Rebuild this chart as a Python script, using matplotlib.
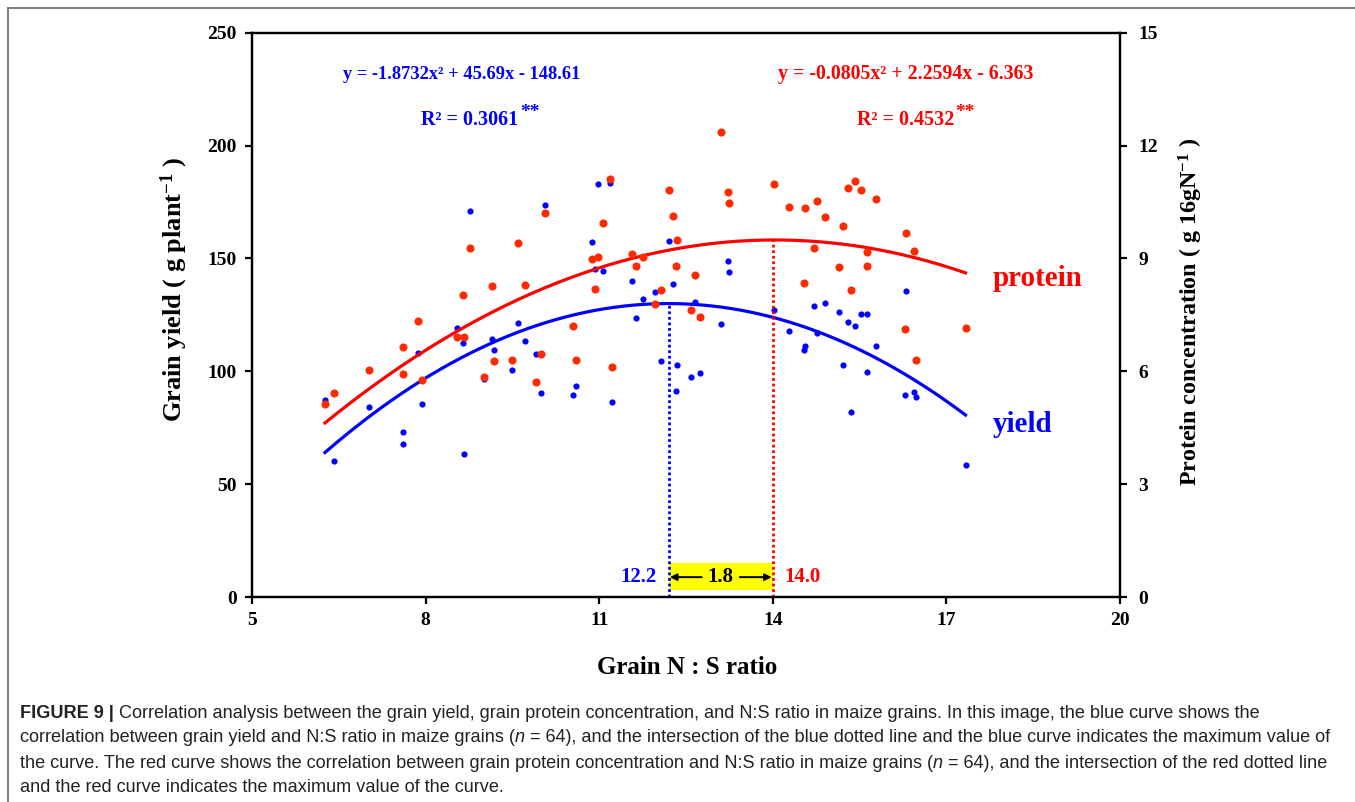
import numpy as np
import matplotlib
matplotlib.use("Agg")
import matplotlib.pyplot as plt
from matplotlib.lines import Line2D
from matplotlib.patches import Rectangle

plt.rcParams['font.family'] = ['Liberation Serif', 'DejaVu Serif']
plt.rcParams['font.weight'] = 'bold'
plt.rcParams['axes.labelweight'] = 'bold'
plt.rcParams['mathtext.fontset'] = 'custom'
plt.rcParams['mathtext.rm'] = 'Liberation Serif:bold'
plt.rcParams['mathtext.bf'] = 'Liberation Serif:bold'
plt.rcParams['mathtext.default'] = 'rm'

# grain N:S ratio of each sample (shared by both series)
ns_ratio = [6.26, 6.42, 7.02, 7.61, 7.61, 7.86, 7.94, 8.54, 8.65, 8.67,
            8.76, 9.01, 9.15, 9.19, 9.49, 9.59, 9.71, 9.91, 9.99, 10.06,
            10.55, 10.60, 10.87, 10.92, 10.98, 11.07, 11.19, 11.22, 11.56, 11.64,
            11.76, 11.96, 12.06, 12.20, 12.27, 12.33, 12.34, 12.58, 12.66, 12.74,
            13.10, 13.23, 13.25, 14.02, 14.28, 14.54, 14.56, 14.71, 14.76, 14.91,
            15.14, 15.21, 15.30, 15.35, 15.42, 15.52, 15.62, 15.62, 15.79, 16.28,
            16.30, 16.44, 16.48, 17.33]

# grain yield, g per plant
grain_yield = [87.5, 60.3, 84.2, 73.3, 67.7, 108.3, 85.7, 119.3, 112.7, 63.4,
               170.8, 96.8, 114.2, 109.3, 100.7, 121.4, 113.3, 107.8, 90.4, 173.6,
               89.7, 93.4, 157.4, 145.1, 182.9, 144.4, 183.2, 86.4, 139.8, 123.5,
               131.9, 135.1, 104.4, 157.8, 138.6, 91.3, 102.7, 97.3, 130.7, 99.4,
               120.9, 149.0, 143.8, 127.1, 118.0, 109.3, 111.1, 128.9, 116.8, 130.2,
               126.1, 102.7, 121.7, 82.0, 120.2, 125.4, 125.4, 99.7, 111.4, 89.7,
               135.5, 90.8, 88.4, 58.3]

# protein concentration, g per 16 g N
protein = [5.13, 5.41, 6.04, 6.64, 5.93, 7.34, 5.78, 6.90, 8.02, 6.90,
           9.28, 5.86, 8.26, 6.28, 6.31, 9.42, 8.29, 5.71, 6.45, 10.21,
           7.20, 6.31, 8.98, 8.18, 9.05, 9.95, 11.10, 6.11, 9.11, 8.80,
           9.05, 7.79, 8.16, 10.83, 10.13, 8.80, 9.50, 7.64, 8.57, 7.43,
           12.37, 10.76, 10.48, 10.99, 10.37, 8.35, 10.34, 9.28, 10.52, 10.10,
           8.78, 9.85, 10.87, 8.16, 11.05, 10.81, 9.16, 8.80, 10.58, 7.13,
           9.67, 9.19, 6.31, 7.15]

# quadratic fits (a, b, c) and their optima
yield_fit = [-1.8732, 45.69, -148.61]
protein_fit = [-0.0805, 2.2594, -6.363]
yield_opt = 12.2
protein_opt = 14.0

x_ticks = [5, 8, 11, 14, 17, 20]
left_ticks = [0, 50, 100, 150, 200, 250]
right_ticks = [0, 3, 6, 9, 12, 15]

BLUE = '#0000ff'
RED = '#ff0000'
DOT_RED = '#ff2a00'

fig = plt.figure(figsize=(13.55, 8.02), dpi=100)
ax = fig.add_axes([0.186, 0.2556, 0.6406, 0.7036])
ax2 = ax.twinx()

xs = np.linspace(min(ns_ratio), max(ns_ratio), 200)
ax.scatter(ns_ratio, grain_yield, s=20, color=BLUE, zorder=3, linewidths=0)
ax.plot(xs, np.polyval(yield_fit, xs), color=BLUE, lw=2.3, zorder=2)
ax2.scatter(ns_ratio, protein, s=34, color=DOT_RED, zorder=3, linewidths=0)
ax2.plot(xs, np.polyval(protein_fit, xs), color=RED, lw=2.3, zorder=2)

# dotted drops from each optimum to the x axis
ax.plot([yield_opt, yield_opt], [0, np.polyval(yield_fit, yield_opt)],
        color=BLUE, lw=2, ls=(0, (1, 1)), zorder=2)
ax2.plot([protein_opt, protein_opt], [0, np.polyval(protein_fit, protein_opt)],
         color=RED, lw=2, ls=(0, (1, 1)), zorder=2)

ax.set_xlim(5, 20)
ax.set_ylim(0, 250)
ax2.set_ylim(0, 15)
ax.set_xticks(x_ticks)
ax.set_yticks(left_ticks)
ax2.set_yticks(right_ticks)

for a in (ax, ax2):
    for sp in a.spines.values():
        sp.set_linewidth(1.6)
    a.tick_params(direction='out', width=1.6, length=5, labelsize=14)
ax.tick_params(axis='x', pad=6)
ax.tick_params(axis='y', pad=6)
ax2.tick_params(axis='y', pad=8)

ax.set_xlabel('Grain N : S ratio', fontsize=18)
ax.xaxis.set_label_coords(0.501, -0.105)
ax.set_ylabel('Grain yield ( g plant$^{-1}$ )', fontsize=19)
ax.yaxis.set_label_coords(-0.072, 0.545)
ax2.set_ylabel('Protein concentration ( g 16gN$^{-1}$ )', fontsize=17.3)
ax2.yaxis.set_label_coords(1.065, 0.505)

# gap between the two optima
gap = protein_opt - yield_opt
ax.add_patch(Rectangle((yield_opt, 3), gap, 12, color='#ffff00', lw=0, zorder=1))
mid = (yield_opt + protein_opt) / 2
ax.text(mid, 8.8, f'{gap:.1f}', ha='center', va='center', fontsize=15, zorder=4)
ax.annotate('', xy=(yield_opt + 0.02, 8.8), xytext=(mid - 0.33, 8.8),
            arrowprops=dict(arrowstyle='-|>', color='black', lw=1.4,
                            mutation_scale=10, shrinkA=0, shrinkB=0), zorder=4)
ax.annotate('', xy=(protein_opt - 0.02, 8.8), xytext=(mid + 0.33, 8.8),
            arrowprops=dict(arrowstyle='-|>', color='black', lw=1.4,
                            mutation_scale=10, shrinkA=0, shrinkB=0), zorder=4)
ax.text(yield_opt - 0.2, 8.8, f'{yield_opt:.1f}', color=BLUE, ha='right',
        va='center', fontsize=15)
ax.text(protein_opt + 0.2, 8.8, f'{protein_opt:.1f}', color=RED, ha='left',
        va='center', fontsize=15)

# fitted equations
ax.text(0.105, 0.918, 'y = -1.8732x² + 45.69x - 148.61', transform=ax.transAxes,
        color=BLUE, fontsize=13.3)
ax.text(0.195, 0.836, 'R² = 0.3061', transform=ax.transAxes, color=BLUE, fontsize=14.5)
ax.text(0.309, 0.85, '**', transform=ax.transAxes, color=BLUE, fontsize=14)
ax.text(0.606, 0.918, 'y = -0.0805x² + 2.2594x - 6.363', transform=ax.transAxes,
        color=RED, fontsize=14.3)
ax.text(0.697, 0.836, 'R² = 0.4532', transform=ax.transAxes, color=RED, fontsize=14.5)
ax.text(0.81, 0.85, '**', transform=ax.transAxes, color=RED, fontsize=14)

ax.text(0.853, 0.552, 'protein', transform=ax.transAxes, color=RED, fontsize=21)
ax.text(0.853, 0.292, 'yield', transform=ax.transAxes, color=BLUE, fontsize=21)

# outer frame of the figure panel
fig.add_artist(Line2D([8 / 1355, 1.0], [1 - 8 / 802, 1 - 8 / 802], color='#666666', lw=1.2))
fig.add_artist(Line2D([8 / 1355, 8 / 1355], [0, 1 - 8 / 802], color='#666666', lw=1.2))

# caption
sans = ['Liberation Sans', 'DejaVu Sans']
renderer = fig.canvas.get_renderer()


def put_runs(x, y, runs, size=13.1):
    for s, style, weight in runs:
        t = fig.text(x, y, s, fontsize=size, family=sans, style=style,
                     weight=weight, color='#222222', va='center')
        x += t.get_window_extent(renderer=renderer).width / fig.bbox.width


caption = [
    [('FIGURE 9 | ', 'normal', 'bold'),
     ('Correlation analysis between the grain yield, grain protein concentration, and N:S ratio '
      'in maize grains. In this image, the blue curve shows the', 'normal', 'normal')],
    [('correlation between grain yield and N:S ratio in maize grains (', 'normal', 'normal'),
     ('n', 'italic', 'normal'),
     (' = 64), and the intersection of the blue dotted line and the blue curve indicates the '
      'maximum value of', 'normal', 'normal')],
    [('the curve. The red curve shows the correlation between grain protein concentration and '
      'N:S ratio in maize grains (', 'normal', 'normal'),
     ('n', 'italic', 'normal'),
     (' = 64), and the intersection of the red dotted line', 'normal', 'normal')],
    [('and the red curve indicates the maximum value of the curve.', 'normal', 'normal')],
]
line_y = [713, 738, 763, 787]
for runs, py in zip(caption, line_y):
    put_runs(20 / 1355, 1 - py / 802, runs)

fig.savefig('out.png', dpi=100)
